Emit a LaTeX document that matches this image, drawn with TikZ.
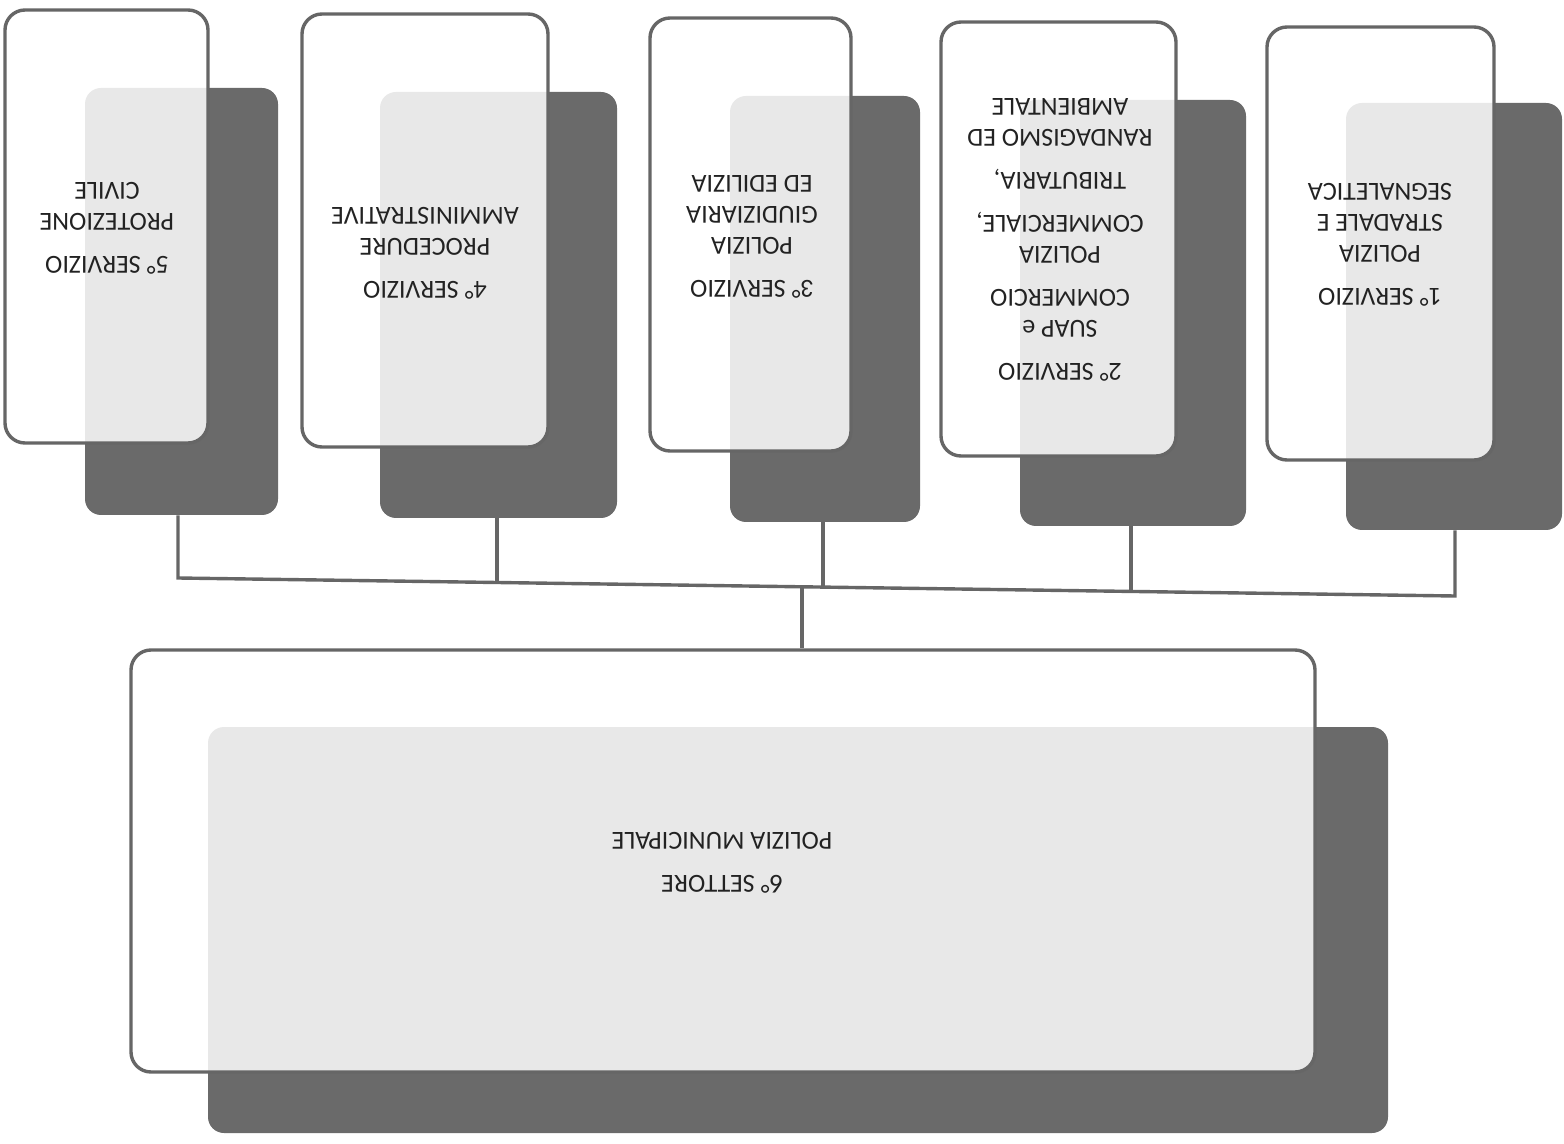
\documentclass[tikz,border=0pt]{standalone}
\usepackage{fontspec}
\setmainfont{Carlito}
\definecolor{edgegray}{HTML}{666666}
\definecolor{shadegray}{HTML}{6A6A6A}
\definecolor{inkgray}{HTML}{222222}
\tikzset{
  shadowbox/.style={fill=shadegray, rounded corners=8pt, inner sep=0pt, draw=none},
  frontbox/.style={fill=white, fill opacity=0.85, draw=edgegray, draw opacity=1, line width=1.7pt, rounded corners=10pt, inner sep=0pt},
  label/.style={rotate=180, align=center, text=inkgray, font=\fontsize{13}{15.5}\selectfont, inner sep=0pt},
  link/.style={draw=edgegray, line width=1.7pt}
}
\begin{document}
\begin{tikzpicture}[x=0.5pt,y=-0.5pt]
\useasboundingbox (0,0) rectangle (1564,1144);
% shadows
\node[shadowbox, minimum width=96.5pt, minimum height=213.5pt] (s1) at (181.5,301.5) {};
\node[shadowbox, minimum width=118.5pt, minimum height=213pt] (s2) at (498.5,305) {};
\node[shadowbox, minimum width=95pt, minimum height=213pt] (s3) at (825,309) {};
\node[shadowbox, minimum width=113pt, minimum height=213pt] (s4) at (1133,313) {};
\node[shadowbox, minimum width=108pt, minimum height=213.5pt] (s5) at (1454,316.5) {};
\node[shadowbox, minimum width=590pt, minimum height=203pt] (sb) at (798,930) {};
% bar coordinates
\coordinate (b1) at (178,578);
\coordinate (b2) at (497,582.5);
\coordinate (b3) at (823,587);
\coordinate (b4) at (1131,591.4);
\coordinate (b5) at (1455,596);
\coordinate (j) at (802,586.8);
% front boxes
\node[frontbox, minimum width=101.5pt, minimum height=216.5pt] (f1) at (106.5,226.5) {};
\node[frontbox, minimum width=123pt, minimum height=216.5pt] (f2) at (425,230.5) {};
\node[frontbox, minimum width=100.5pt, minimum height=216.5pt] (f3) at (750.5,234.5) {};
\node[frontbox, minimum width=117.5pt, minimum height=217pt] (f4) at (1058.5,239) {};
\node[frontbox, minimum width=113.5pt, minimum height=216.5pt] (f5) at (1380.5,243.5) {};
\node[frontbox, minimum width=592pt, minimum height=211pt] (fb) at (723,861) {};
% connectors
\draw[link] (s1.south -| b1) -- (b1) -- (b5) -- (s5.south -| b5);
\draw[link] (s2.south -| b2) -- (b2);
\draw[link] (s3.south -| b3) -- (b3);
\draw[link] (s4.south -| b4) -- (b4);
\draw[link] (j) -- (j |- fb.north);
% labels
\node[label] (t1) at (107,228) {5° SERVIZIO\\[6pt]PROTEZIONE\\CIVILE};
\node[label] (t2) at (425,253) {4° SERVIZIO\\[6pt]PROCEDURE\\AMMINISTRATIVE};
\node[label] (t3) at (752,237) {3° SERVIZIO\\[6pt]POLIZIA\\GIUDIZIARIA\\ED EDILIZIA};
\node[label] (t4) at (1060,240) {2° SERVIZIO\\[6pt]SUAP e\\COMMERCIO\\[6pt]POLIZIA\\COMMERCIALE,\\[6pt]TRIBUTARIA,\\[6pt]RANDAGISMO ED\\AMBIENTALE};
\node[label] (t5) at (1380,245) {1° SERVIZIO\\[6pt]POLIZIA\\STRADALE E\\SEGNALETICA};
\node[label] (tb) at (722,863) {6° SETTORE\\[6pt]POLIZIA MUNICIPALE};
\end{tikzpicture}
\end{document}
